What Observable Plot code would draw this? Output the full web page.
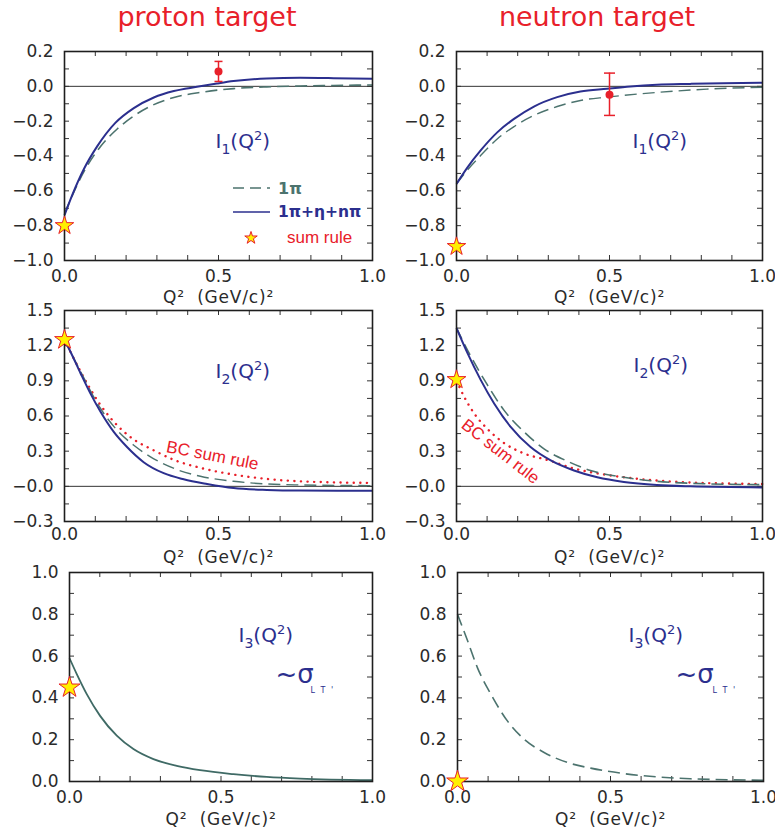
<!DOCTYPE html>
<html><head><meta charset="utf-8">
<script src="https://cdn.jsdelivr.net/npm/d3@7"></script>
<script src="https://cdn.jsdelivr.net/npm/@observablehq/plot@0.6"></script>
<style>
html,body{margin:0;padding:0;background:#fff;}
#page{position:relative;width:775px;height:834px;overflow:hidden;background:#fff;}
.panel{position:absolute;}
.panel svg{overflow:visible;display:block;}
</style></head><body><div id="page"></div>
<script>
// ---------- tick values & labels ----------
const Q2_TICKS = [0, 0.5, 1.0];
const Q2_TICK_LABELS = ["0.0", "0.5", "1.0"];
const Q2_MINOR = [0, 0.1, 0.2, 0.3, 0.4, 0.5, 0.6, 0.7, 0.8, 0.9, 1.0];
const I1_TICKS = [0.2, 0.0, -0.2, -0.4, -0.6, -0.8, -1.0];
const I1_TICK_LABELS = ["0.2", "0.0", "−0.2", "−0.4", "−0.6", "−0.8", "−1.0"];
const I1_MINOR = [0.2, 0.1, 0, -0.1, -0.2, -0.3, -0.4, -0.5, -0.6, -0.7, -0.8, -0.9, -1.0];
const I2_TICKS = [1.5, 1.2, 0.9, 0.6, 0.3, 0.0, -0.3];
const I2_TICK_LABELS = ["1.5", "1.2", "0.9", "0.6", "0.3", "−0.0", "−0.3"];
const I2_MINOR = [1.5, 1.35, 1.2, 1.05, 0.9, 0.75, 0.6, 0.45, 0.3, 0.15, 0, -0.15, -0.3];
const I3_TICKS = [1.0, 0.8, 0.6, 0.4, 0.2, 0.0];
const I3_TICK_LABELS = ["1.0", "0.8", "0.6", "0.4", "0.2", "0.0"];
const I3_MINOR = [1.0, 0.9, 0.8, 0.7, 0.6, 0.5, 0.4, 0.3, 0.2, 0.1, 0.0];

// ---------- proton I1 ----------
const pI1_full_q = [0, 0.025, 0.063, 0.106, 0.165, 0.225, 0.29, 0.355, 0.43, 0.495, 0.549, 0.657, 0.765, 0.874, 1.0];
const pI1_full_v = [-0.74, -0.625, -0.475, -0.345, -0.21, -0.125, -0.064, -0.027, -0.003, 0.016, 0.030, 0.045, 0.049, 0.047, 0.043];
const pI1_1pi_q = [0, 0.063, 0.117, 0.171, 0.225, 0.29, 0.355, 0.441, 0.549, 0.657, 0.765, 0.874, 1.0];
const pI1_1pi_v = [-0.73, -0.49, -0.345, -0.245, -0.17, -0.105, -0.064, -0.035, -0.013, -0.003, 0.002, 0.005, 0.008];
// ---------- neutron I1 ----------
const nI1_full_q = [0, 0.036, 0.079, 0.134, 0.188, 0.253, 0.329, 0.405, 0.492, 0.568, 0.655, 0.764, 0.873, 1.0];
const nI1_full_v = [-0.56, -0.465, -0.368, -0.263, -0.187, -0.116, -0.062, -0.030, -0.014, -0.001, 0.009, 0.014, 0.018, 0.020];
const nI1_1pi_q = [0, 0.036, 0.079, 0.134, 0.188, 0.253, 0.329, 0.405, 0.492, 0.601, 0.710, 0.818, 1.0];
const nI1_1pi_v = [-0.56, -0.48, -0.397, -0.301, -0.231, -0.167, -0.116, -0.081, -0.062, -0.043, -0.028, -0.016, -0.005];
// ---------- proton I2 ----------
const pI2_full_q = [0, 0.019, 0.052, 0.084, 0.117, 0.160, 0.203, 0.257, 0.322, 0.387, 0.463, 0.549, 0.657, 0.765, 1.0];
const pI2_full_v = [1.25, 1.15, 0.965, 0.793, 0.636, 0.464, 0.335, 0.206, 0.112, 0.060, 0.020, -0.015, -0.031, -0.036, -0.037];
const pI2_1pi_q = [0, 0.052, 0.117, 0.171, 0.225, 0.290, 0.365, 0.441, 0.549, 0.657, 0.765, 1.0];
const pI2_1pi_v = [1.25, 0.98, 0.664, 0.478, 0.35, 0.235, 0.143, 0.086, 0.043, 0.020, 0.012, 0.006];
const pI2_bc_q = [0, 0.052, 0.117, 0.171, 0.214, 0.290, 0.355, 0.441, 0.549, 0.657, 0.765, 1.0];
const pI2_bc_v = [1.25, 0.98, 0.693, 0.521, 0.42, 0.307, 0.226, 0.158, 0.100, 0.063, 0.043, 0.029];
// ---------- neutron I2 ----------
const nI2_full_q = [0, 0.036, 0.079, 0.123, 0.177, 0.242, 0.308, 0.384, 0.460, 0.547, 0.655, 0.764, 1.0];
const nI2_full_v = [1.35, 1.136, 0.908, 0.707, 0.507, 0.335, 0.221, 0.135, 0.077, 0.037, 0.011, 0.0, -0.009];
const nI2_1pi_q = [0, 0.047, 0.101, 0.155, 0.221, 0.286, 0.362, 0.438, 0.547, 0.655, 0.764, 1.0];
const nI2_1pi_v = [1.35, 1.108, 0.865, 0.65, 0.464, 0.32, 0.215, 0.135, 0.077, 0.043, 0.026, 0.014];
const nI2_bc_q = [0, 0.025, 0.058, 0.101, 0.155, 0.221, 0.297, 0.384, 0.492, 0.601, 0.764, 1.0];
const nI2_bc_v = [0.90, 0.764, 0.621, 0.49, 0.37, 0.28, 0.225, 0.152, 0.097, 0.062, 0.033, 0.02];
// ---------- I3 ----------
const pI3_q = [0, 0.024, 0.057, 0.101, 0.156, 0.211, 0.277, 0.354, 0.431, 0.541, 0.651, 0.761, 1.0];
const pI3_v = [0.59, 0.514, 0.418, 0.314, 0.219, 0.155, 0.107, 0.075, 0.054, 0.035, 0.022, 0.014, 0.006];
const nI3_q = [0, 0.033, 0.065, 0.109, 0.163, 0.217, 0.283, 0.359, 0.435, 0.543, 0.652, 0.761, 1.0];
const nI3_v = [0.80, 0.673, 0.545, 0.418, 0.29, 0.203, 0.139, 0.091, 0.064, 0.038, 0.022, 0.013, 0.006];
// ---------- sum rule values at Q2 = 0 ----------
const sumRuleQ = [0];
const sumRule_pI1 = [-0.80], sumRule_nI1 = [-0.92];
const sumRule_pI2 = [1.25], sumRule_nI2 = [0.91];
const sumRule_pI3 = [0.45], sumRule_nI3 = [0.0];
// ---------- data points (I1 at Q2 = 0.5) ----------
const dataQ = [0.5];
const data_pI1 = [0.085], data_pI1_lo = [0.028], data_pI1_hi = [0.143];
const data_nI1 = [-0.049], data_nI1_lo = [-0.167], data_nI1_hi = [0.076];

// ---------- style ----------
const RED = "#e8202a", NAVY = "#2b2f8e", TEAL = "#4c736e", TEAL2 = "#3f6a65", YEL = "#fff000";
const FONT = "DejaVu Sans, sans-serif";

const pairs = (qs, vs) => qs.map((q, i) => ({q, v: vs[i]}));
const lab = (ticks, labels) => d => labels[ticks.findIndex(t => Math.abs(t - d) < 1e-9)];
const capSymbol = {draw(ctx, size) { const w = Math.sqrt(size / Math.PI); ctx.moveTo(-w, 0); ctx.lineTo(w, 0); }};

function line(q, v, color, width, dash, cap) {
  return Plot.line(pairs(q, v), {x: "q", y: "v", stroke: color, strokeWidth: width,
    strokeDasharray: dash, strokeLinecap: cap || "butt", curve: "monotone-x"});
}

function panel(cfg) {
  const b = cfg.box;
  const FW = b.width - b.ml - b.mr, FH = b.height - b.mt - b.mb;
  const marks = [
    Plot.ruleX(Q2_MINOR, {x: d => d, insetTop: FH - 5, stroke: "#333", strokeWidth: 1}),
    Plot.ruleX(Q2_MINOR, {x: d => d, insetBottom: FH - 5, stroke: "#333", strokeWidth: 1}),
    Plot.ruleY(cfg.yMinor, {y: d => d, insetRight: FW - 5, stroke: "#333", strokeWidth: 1}),
    Plot.ruleY(cfg.yMinor, {y: d => d, insetLeft: FW - 5, stroke: "#333", strokeWidth: 1})
  ];
  if (cfg.zero) marks.push(Plot.ruleY([0], {stroke: "#333", strokeWidth: 1}));
  marks.push(...cfg.lines);
  marks.push(Plot.frame({stroke: "#1e1e1e", strokeWidth: 1.6}));
  marks.push(Plot.axisX({ticks: Q2_TICKS, tickSize: 0, tickPadding: cfg.xPad, tickFormat: lab(Q2_TICKS, Q2_TICK_LABELS), fill: "#2a2a2a"}));
  marks.push(Plot.axisY({ticks: cfg.yTicks, tickSize: 0, tickPadding: 11, tickFormat: lab(cfg.yTicks, cfg.yLabels), fill: "#2a2a2a"}));
  marks.push(Plot.text(["Q²  (GeV/c)²"], {text: d => d, frameAnchor: "bottom", dy: cfg.labDy, fill: "#2a2a2a", fontSize: 17, lineAnchor: "middle", textAnchor: "middle"}));
  if (cfg.points) {
    const p = cfg.points;
    marks.push(Plot.ruleX(p.data, {x: "q", y1: "lo", y2: "hi", stroke: RED, strokeWidth: 1.5}));
    marks.push(Plot.dot(p.data, {x: "q", y: "lo", symbol: capSymbol, r: p.cap, stroke: RED, strokeWidth: 1.5, fill: "none"}));
    marks.push(Plot.dot(p.data, {x: "q", y: "hi", symbol: capSymbol, r: p.cap, stroke: RED, strokeWidth: 1.5, fill: "none"}));
    marks.push(Plot.dot(p.data, {x: "q", y: "v", r: 4, fill: RED}));
  }
  marks.push(Plot.dot(cfg.star, {x: "q", y: "v", symbol: "star", r: cfg.starR, fill: YEL, stroke: RED, strokeWidth: 1}));
  marks.push(...(cfg.notes || []));
  const chart = Plot.plot({
    width: b.width, height: b.height,
    marginLeft: b.ml, marginRight: b.mr, marginTop: b.mt, marginBottom: b.mb,
    x: {domain: [0, 1], label: null},
    y: {domain: cfg.yDomain, label: null},
    style: {background: "transparent", overflow: "visible", fontFamily: FONT, fontSize: "17px", color: "#2a2a2a"},
    marks
  });
  const div = document.createElement("div");
  div.className = "panel";
  div.style.left = b.left + "px"; div.style.top = b.top + "px";
  div.style.width = b.width + "px"; div.style.height = b.height + "px";
  div.appendChild(chart);
  document.getElementById("page").appendChild(div);
  richText(chart);
  d3.select(chart).selectAll("text").filter(function () { return this.textContent.includes("GeV"); })
    .style("letter-spacing", "0.8px");
  d3.select(chart).selectAll("text").filter(function () { return this.textContent === "L T '"; })
    .style("letter-spacing", "1.5px");
}

// turn "_{..}" and "^{..}" into sub/superscript tspans
function richText(svg) {
  d3.select(svg).selectAll("text").each(function () {
    const t = this.textContent;
    if (!/[_^]\{/.test(t)) return;
    const fs = parseFloat(getComputedStyle(this).fontSize) || 17;
    const el = d3.select(this);
    el.text(null);
    const parts = t.split(/([_^]\{[^}]*\})/).filter(s => s.length);
    let shift = 0;
    for (const s of parts) {
      const sp = el.append("tspan");
      let target = 0, size = null, txt = s;
      if (s.startsWith("_{")) { target = 0.32 * fs; size = 0.7 * fs; txt = s.slice(2, -1); }
      else if (s.startsWith("^{")) { target = -0.42 * fs; size = 0.65 * fs; txt = s.slice(2, -1); }
      sp.attr("dy", (target - shift).toFixed(2));
      if (size) sp.attr("font-size", size.toFixed(1));
      sp.text(txt);
      shift = target;
    }
  });
}

const note = (txt, dx, dy, opts = {}) => Plot.text([txt], {text: d => d, frameAnchor: "top-left", dx, dy,
  textAnchor: "start", lineAnchor: "middle", fill: NAVY, fontSize: 20, ...opts});

// ---------- panels ----------
panel({
  box: {left: 0, top: 40, width: 390, height: 270, ml: 64, mr: 18, mt: 11, mb: 50},
  yDomain: [-1.0, 0.2], yTicks: I1_TICKS, yLabels: I1_TICK_LABELS, yMinor: I1_MINOR, zero: true, xPad: 9, labDy: 37,
  lines: [line(pI1_1pi_q, pI1_1pi_v, TEAL, 1.6, "12,6"), line(pI1_full_q, pI1_full_v, NAVY, 2)],
  points: {data: dataQ.map((q, i) => ({q, v: data_pI1[i], lo: data_pI1_lo[i], hi: data_pI1_hi[i]})), cap: 4},
  star: pairs(sumRuleQ, sumRule_pI1), starR: 5.8,
  notes: [note("I_{1}(Q^{2})", 151, 90)]
});
panel({
  box: {left: 390, top: 40, width: 385, height: 270, ml: 66, mr: 13, mt: 11, mb: 50},
  yDomain: [-1.0, 0.2], yTicks: I1_TICKS, yLabels: I1_TICK_LABELS, yMinor: I1_MINOR, zero: true, xPad: 9, labDy: 37,
  lines: [line(nI1_1pi_q, nI1_1pi_v, TEAL, 1.4, "12,6"), line(nI1_full_q, nI1_full_v, NAVY, 2)],
  points: {data: dataQ.map((q, i) => ({q, v: data_nI1[i], lo: data_nI1_lo[i], hi: data_nI1_hi[i]})), cap: 5.5},
  star: pairs(sumRuleQ, sumRule_nI1), starR: 5.8,
  notes: [note("I_{1}(Q^{2})", 176, 90)]
});
panel({
  box: {left: 0, top: 300, width: 390, height: 270, ml: 64, mr: 18, mt: 10, mb: 49},
  yDomain: [-0.3, 1.5], yTicks: I2_TICKS, yLabels: I2_TICK_LABELS, yMinor: I2_MINOR, zero: true, xPad: 6, labDy: 36,
  lines: [line(pI2_bc_q, pI2_bc_v, RED, 2.4, "0.1,6.5", "round"), line(pI2_1pi_q, pI2_1pi_v, TEAL, 1.4, "12,6"), line(pI2_full_q, pI2_full_v, NAVY, 2)],
  star: pairs(sumRuleQ, sumRule_pI2), starR: 6.2,
  notes: [note("I_{2}(Q^{2})", 151, 61),
    Plot.text(["BC sum rule"], {text: d => d, frameAnchor: "top-left", dx: 148, dy: 145, rotate: 11, textAnchor: "middle", lineAnchor: "middle", fill: RED, fontSize: 17, fontFamily: "Liberation Sans, sans-serif"})]
});
panel({
  box: {left: 390, top: 300, width: 385, height: 270, ml: 66, mr: 13, mt: 10, mb: 49},
  yDomain: [-0.3, 1.5], yTicks: I2_TICKS, yLabels: I2_TICK_LABELS, yMinor: I2_MINOR, zero: true, xPad: 6, labDy: 36,
  lines: [line(nI2_bc_q, nI2_bc_v, RED, 2.4, "0.1,6.5", "round"), line(nI2_1pi_q, nI2_1pi_v, TEAL, 1.6, "12,6"), line(nI2_full_q, nI2_full_v, NAVY, 2)],
  star: pairs(sumRuleQ, sumRule_nI2), starR: 5.9,
  notes: [note("I_{2}(Q^{2})", 177, 55),
    Plot.text(["BC sum rule"], {text: d => d, frameAnchor: "top-left", dx: 44, dy: 141, rotate: 38, textAnchor: "middle", lineAnchor: "middle", fill: RED, fontSize: 17, fontFamily: "Liberation Sans, sans-serif"})]
});
panel({
  box: {left: 0, top: 561, width: 390, height: 273, ml: 69, mr: 18, mt: 11, mb: 53},
  yDomain: [0, 1.0], yTicks: I3_TICKS, yLabels: I3_TICK_LABELS, yMinor: I3_MINOR, zero: false, xPad: 9, labDy: 38,
  lines: [line(pI3_q, pI3_v, TEAL2, 1.8)],
  star: pairs(sumRuleQ, sumRule_pI3), starR: 6.6,
  notes: [note("I_{3}(Q^{2})", 169, 63),
    note("~σ", 206, 110, {fontSize: 26, lineAnchor: "bottom"}),
    note("L T '", 241, 120, {fontSize: 8, lineAnchor: "bottom"})]
});
panel({
  box: {left: 390, top: 561, width: 385, height: 273, ml: 67, mr: 12, mt: 11, mb: 53},
  yDomain: [0, 1.0], yTicks: I3_TICKS, yLabels: I3_TICK_LABELS, yMinor: I3_MINOR, zero: false, xPad: 9, labDy: 38,
  lines: [line(nI3_q, nI3_v, TEAL, 1.6, "12,6")],
  star: pairs(sumRuleQ, sumRule_nI3), starR: 6.8,
  notes: [note("I_{3}(Q^{2})", 171, 63),
    note("~σ", 218, 110, {fontSize: 26, lineAnchor: "bottom"}),
    note("L T '", 255, 120, {fontSize: 8, lineAnchor: "bottom"})]
});

// ---------- titles and legend overlay ----------
const ov = d3.select("#page").append("svg")
  .attr("width", 775).attr("height", 834)
  .style("position", "absolute").style("left", "0px").style("top", "0px")
  .style("pointer-events", "none").style("overflow", "visible")
  .attr("font-family", FONT);
ov.append("text").attr("x", 207).attr("y", 26).attr("text-anchor", "middle")
  .attr("fill", RED).attr("font-size", 27).text("proton target");
ov.append("text").attr("x", 597).attr("y", 26).attr("text-anchor", "middle")
  .attr("fill", RED).attr("font-size", 27).text("neutron target");

const lg = ov.append("g");
lg.append("line").attr("x1", 233).attr("x2", 270).attr("y1", 188).attr("y2", 188)
  .attr("stroke", TEAL).attr("stroke-width", 1.6).attr("stroke-dasharray", "11,6");
lg.append("text").attr("x", 278).attr("y", 188).attr("dy", "0.35em").attr("fill", TEAL)
  .attr("font-weight", "bold").attr("font-size", 16).text("1π");
lg.append("line").attr("x1", 233).attr("x2", 270).attr("y1", 212).attr("y2", 212)
  .attr("stroke", NAVY).attr("stroke-width", 1.6);
lg.append("text").attr("x", 278).attr("y", 212).attr("dy", "0.35em").attr("fill", NAVY)
  .attr("font-weight", "bold").attr("font-size", 15.5).text("1π+η+nπ");
lg.append("path").attr("d", d3.symbol(d3.symbolStar, 48)()).attr("transform", "translate(251,238)")
  .attr("fill", YEL).attr("stroke", RED).attr("stroke-width", 1);
lg.append("text").attr("x", 287).attr("y", 237).attr("dy", "0.35em").attr("fill", RED)
  .attr("font-size", 17).attr("font-family", "Liberation Sans, sans-serif").text("sum rule");
</script>
</body></html>
